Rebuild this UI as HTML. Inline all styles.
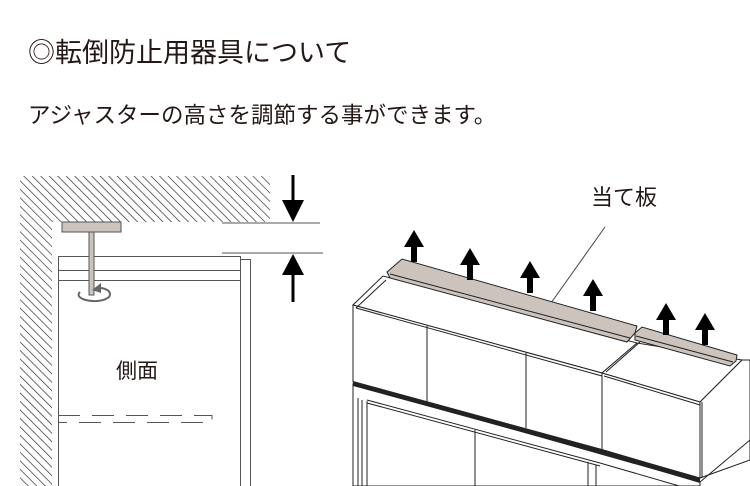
<!DOCTYPE html>
<html><head><meta charset="utf-8"><style>
body{margin:0;width:750px;height:486px;overflow:hidden;background:#fff}
svg{display:block}
text{font-family:"Liberation Sans","Noto Sans CJK JP",sans-serif;fill:#231815}
</style></head><body>
<svg width="750" height="486" viewBox="0 0 750 486" xmlns="http://www.w3.org/2000/svg">
<defs>
<pattern id="h" width="6" height="6" patternUnits="userSpaceOnUse" patternTransform="rotate(-45)">
<line x1="0" y1="0" x2="0" y2="6" stroke="#222" stroke-width="1.3"/>
</pattern>
</defs>
<text x="28" y="62" font-size="27">◎転倒防止用器具について</text>
<text x="28" y="123" font-size="22.5">アジャスターの高さを調節する事ができます。</text>
<text x="591" y="205" font-size="22">当て板</text>

<path d="M20 176 H270 V222 H52 V486 H20 Z" fill="url(#h)"/>
<line x1="222" y1="223" x2="320" y2="223" stroke="#555" stroke-width="1"/>
<line x1="222" y1="253" x2="323" y2="253" stroke="#555" stroke-width="1"/>
<line x1="293" y1="175" x2="293" y2="205" stroke="#000" stroke-width="3"/>
<polygon points="282,200 304,200 293,222" fill="#000"/>
<polygon points="282,275 304,275 293,254" fill="#000"/>
<line x1="293" y1="270" x2="293" y2="302" stroke="#000" stroke-width="3"/>
<rect x="58.5" y="256.5" width="182" height="240" fill="#fff" stroke="#555"/>
<rect x="240.5" y="259.5" width="10" height="240" fill="#fff" stroke="#555"/>
<line x1="58" y1="270.5" x2="240" y2="270.5" stroke="#555"/>
<line x1="58" y1="280.5" x2="240" y2="280.5" stroke="#555"/>
<path d="M58 415.5 H212 V422.5 H58" fill="none" stroke="#555" stroke-dasharray="22,12"/>
<rect x="62" y="222" width="59" height="10" fill="#cdc3bd" stroke="#555"/>
<rect x="89" y="232" width="5" height="63" fill="#cdc3bd" stroke="#555"/>
<path d="M80 292 C72 300 100 305 109 297 C113 291 104 287 96 288" fill="none" stroke="#666" stroke-width="2"/>
<polygon points="92,290 101,283 101,293" fill="#666"/>
<text x="116" y="378" font-size="21">側面</text>

<line x1="605" y1="227" x2="551" y2="303" stroke="#444" stroke-width="1"/>

<g stroke="#222" stroke-width="1" fill="#fff">
<polygon points="353,305 383,276 637,343 602,373"/>
<polygon points="602,373 637,343 742,360 700,402" />
<polygon points="353,305 602,373 602,450 353,382"/>
<polygon points="602,373 700,402 700,478 602,450"/>
<polygon points="700,402 742,360 750,360 750,460 700,478"/>
<line x1="427" y1="326" x2="427" y2="402"/>
<line x1="526" y1="353" x2="526" y2="428"/>
<line x1="356" y1="308" x2="602" y2="376"/>
<line x1="604" y1="376" x2="700" y2="405"/>
<line x1="386" y1="280" x2="356" y2="308"/>
<line x1="606" y1="372" x2="640" y2="342"/>
<polygon points="353,384 700,482 700,486 353,486"/>
<line x1="358" y1="398" x2="358" y2="486"/>
<line x1="362" y1="400" x2="362" y2="486"/>
<line x1="367" y1="401" x2="367" y2="486"/>
<line x1="475" y1="430" x2="475" y2="486"/>
<line x1="588" y1="462" x2="588" y2="486"/>
<line x1="596" y1="465" x2="596" y2="486"/>
<line x1="367" y1="400" x2="600" y2="463"/>
<line x1="367" y1="403" x2="600" y2="466"/>
<line x1="600" y1="463" x2="700" y2="492"/>
<line x1="700" y1="482" x2="750" y2="440"/>
<line x1="702" y1="402" x2="702" y2="478"/>
</g>
<polygon points="353,381 602,449 700,478 700,483 602,454 353,386" fill="#222"/>
<g stroke="#222" stroke-width="1" fill="#cdc3bd">
<polygon points="387,272 402,259 637,326 635,333 627,342 390,278"/>
<line x1="390" y1="274" x2="630" y2="338"/>
<polygon points="635,333 642,327 737,355 736,361 730,366 635,340"/>
<line x1="636" y1="336" x2="733" y2="362"/>
</g>
<g fill="#000">
<g transform="translate(414,240)"><polygon points="0,-10 -10,7 10,7"/><rect x="-3" y="6" width="6" height="16"/></g>
<g transform="translate(470,258)"><polygon points="0,-10 -10,7 10,7"/><rect x="-3" y="6" width="6" height="16"/></g>
<g transform="translate(530,271)"><polygon points="0,-10 -10,7 10,7"/><rect x="-3" y="6" width="6" height="16"/></g>
<g transform="translate(593,289)"><polygon points="0,-10 -10,7 10,7"/><rect x="-3" y="6" width="6" height="16"/></g>
<g transform="translate(666,313)"><polygon points="0,-10 -10,7 10,7"/><rect x="-3" y="6" width="6" height="16"/></g>
<g transform="translate(705,323)"><polygon points="0,-10 -10,7 10,7"/><rect x="-3" y="6" width="6" height="16"/></g>
</g>
</svg>
</body></html>
